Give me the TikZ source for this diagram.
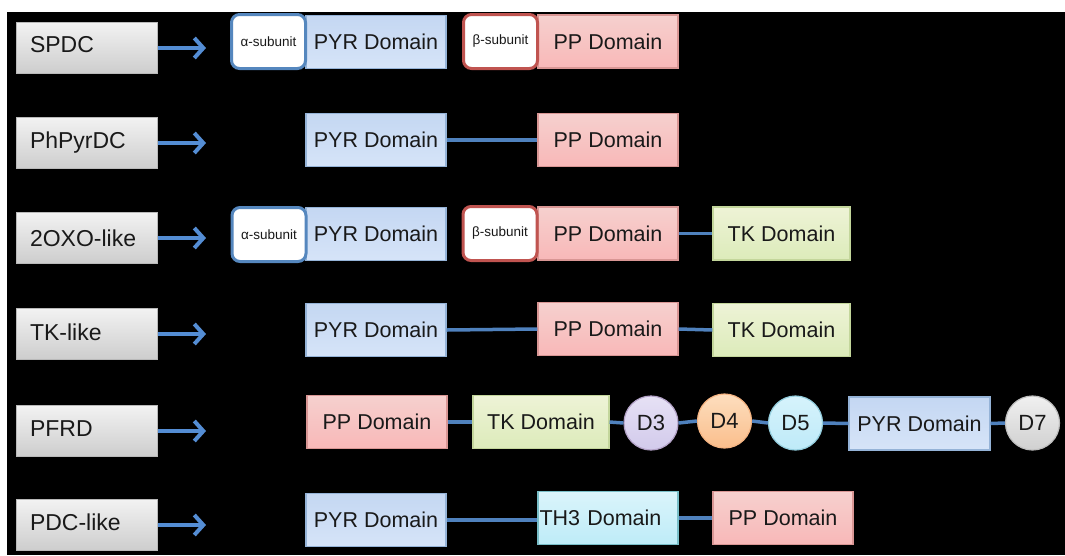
\documentclass[tikz,border=0pt]{standalone}
\usepackage{fontspec}
\setmainfont{Liberation Sans}
\usetikzlibrary{arrows.meta}
\definecolor{connc}{RGB}{79,129,189}
\definecolor{arrc}{RGB}{84,141,212}
\definecolor{txt}{RGB}{25,25,25}
\definecolor{labT}{RGB}{242,242,242}
\definecolor{labB}{RGB}{205,205,205}
\definecolor{labD}{RGB}{185,185,185}
\definecolor{pyrT}{RGB}{196,215,242}
\definecolor{pyrB}{RGB}{214,228,248}
\definecolor{pyrD}{RGB}{149,179,215}
\definecolor{ppT}{RGB}{246,208,206}
\definecolor{ppB}{RGB}{248,184,184}
\definecolor{ppD}{RGB}{217,150,148}
\definecolor{tkT}{RGB}{238,243,214}
\definecolor{tkB}{RGB}{220,235,186}
\definecolor{tkD}{RGB}{195,214,155}
\definecolor{thT}{RGB}{218,244,251}
\definecolor{thB}{RGB}{190,236,248}
\definecolor{thD}{RGB}{120,190,200}
\definecolor{alD}{RGB}{85,135,190}
\definecolor{beD}{RGB}{192,84,80}
\definecolor{dthT}{RGB}{230,225,245}
\definecolor{dthB}{RGB}{210,202,235}
\definecolor{dthD}{RGB}{179,162,199}
\definecolor{dfoT}{RGB}{253,222,190}
\definecolor{dfoB}{RGB}{250,190,140}
\definecolor{dfoD}{RGB}{245,180,130}
\definecolor{dfiT}{RGB}{214,243,252}
\definecolor{dfiB}{RGB}{190,234,248}
\definecolor{dfiD}{RGB}{147,205,221}
\definecolor{dseT}{RGB}{240,240,240}
\definecolor{dseB}{RGB}{208,208,208}
\definecolor{dseD}{RGB}{190,190,190}
\tikzset{
  lab/.style={draw=labD, line width=1pt, top color=labT, bottom color=labB,
    minimum width=141pt, minimum height=51pt, inner xsep=14pt, inner ysep=0pt,
    text width=113pt, align=left, text=txt, font=\fontsize{23}{26}\selectfont},
  dom/.style={line width=1.2pt, minimum width=140pt, minimum height=53pt,
    inner sep=0pt, text=txt, font=\fontsize{21.5}{24}\selectfont},
  pyr/.style={dom, draw=pyrD, top color=pyrT, bottom color=pyrB},
  pp/.style={dom, draw=ppD, top color=ppT, bottom color=ppB},
  tk/.style={dom, draw=tkD, top color=tkT, bottom color=tkB, minimum width=137pt},
  th/.style={dom, draw=thD, top color=thT, bottom color=thB, text width=137pt, align=left},
  sub/.style={fill=white, line width=3pt, rounded corners=8pt, minimum width=74pt,
    minimum height=54pt, inner sep=0pt, text=txt, font=\fontsize{13.5}{15}\selectfont},
  alsub/.style={sub, draw=alD},
  besub/.style={sub, draw=beD},
  circ/.style={circle, line width=1.2pt, minimum size=54pt, inner sep=0pt, text=txt,
    font=\fontsize{22}{24}\selectfont},
  conn/.style={draw=connc, line width=3.5pt},
  arr/.style={draw=arrc, line width=4pt, -{Straight Barb[length=9pt,width=20pt]}},
}
\begin{document}
\begin{tikzpicture}[x=1pt,y=-1pt]
\useasboundingbox (0,0) rectangle (1065,555);
\fill[white] (0,0) rectangle (1065,555);
\fill[black] (7,12) rectangle (1065,555);

% labels
\node[lab] (l1) at (86.5,48) {\raisebox{8pt}{SPDC}};
\node[lab] (l2) at (86.5,143) {\raisebox{5pt}{PhPyrDC}};
\node[lab] (l3) at (86.5,238) {2OXO-like};
\node[lab] (l4) at (86.5,334) {\raisebox{3pt}{TK-like}};
\node[lab] (l5) at (86.5,431) {\raisebox{4pt}{PFRD}};
\node[lab] (l6) at (86.5,525) {\raisebox{5pt}{PDC-like}};
\coordinate (e1) at (206,48);
\coordinate (e2) at (206,143);
\coordinate (e3) at (206,238);
\coordinate (e4) at (206,334);
\coordinate (e5) at (206,431);
\coordinate (e6) at (206,525);
\foreach \i in {1,...,6} {\draw[arr] (l\i.east) -- (e\i);}

% row 1
\node[pyr] (pyr1) at (376,42) {PYR Domain};
\node[pp] (pp1) at (608,41.5) {PP Domain};
\node[alsub] (al1) at (268.5,41.5) {α-subunit};
\node[besub] (be1) at (500.5,41.5) {β-subunit};

% row 2
\node[pyr] (pyr2) at (376,140) {PYR Domain};
\node[pp] (pp2) at (608,140) {PP Domain};
\draw[conn] (pyr2.east) -- (pp2.west);

% row 3
\node[pyr] (pyr3) at (376,234) {PYR Domain};
\node[pp] (pp3) at (608,233.5) {PP Domain};
\node[tk] (tk3) at (781.5,233.5) {TK Domain};
\node[alsub] (al3) at (269,234.5) {α-subunit};
\node[besub] (be3) at (500,233.5) {β-subunit};
\draw[conn] (pp3.east) -- (tk3.west);

% row 4
\node[pyr] (pyr4) at (376,330) {PYR Domain};
\node[pp] (pp4) at (608,329) {PP Domain};
\node[tk] (tk4) at (781.5,330) {TK Domain};
\draw[conn] (pyr4.east) -- (pp4.west);
\draw[conn] (pp4.east) -- (tk4.west);

% row 5
\node[pp] (pp5) at (377,422) {PP Domain};
\node[tk, minimum width=136pt] (tk5) at (541,422) {TK Domain};
\node[circ, draw=dthD, top color=dthT, bottom color=dthB] (d3) at (651,423) {D3};
\node[circ, draw=dfoD, top color=dfoT, bottom color=dfoB] (d4) at (724.5,421) {D4};
\node[circ, draw=dfiD, top color=dfiT, bottom color=dfiB] (d5) at (795.5,423) {D5};
\node[pyr, minimum width=141pt] (pyr5) at (919.5,423.5) {PYR Domain};
\node[circ, draw=dseD, top color=dseT, bottom color=dseB] (d7) at (1032.5,423) {D7};
\draw[conn] (pp5.east) -- (tk5.west);
\draw[conn] (tk5.east) -- (d3.west);
\draw[conn] (d3.east) -- (d4.west);
\draw[conn] (d4.east) -- (d5.west);
\draw[conn] (d5.east) -- (pyr5.west);
\draw[conn] (pyr5.east) -- (d7.west);

% row 6
\node[pyr] (pyr6) at (376,520) {PYR Domain};
\node[th, minimum width=140pt] (th6) at (608,518) {TH3 Domain};
\node[pp] (pp6) at (783,518) {PP Domain};
\draw[conn] (pyr6.east) -- (pyr6.east -| th6.west);
\draw[conn] (th6.east) -- (pp6.west);
\end{tikzpicture}
\end{document}
